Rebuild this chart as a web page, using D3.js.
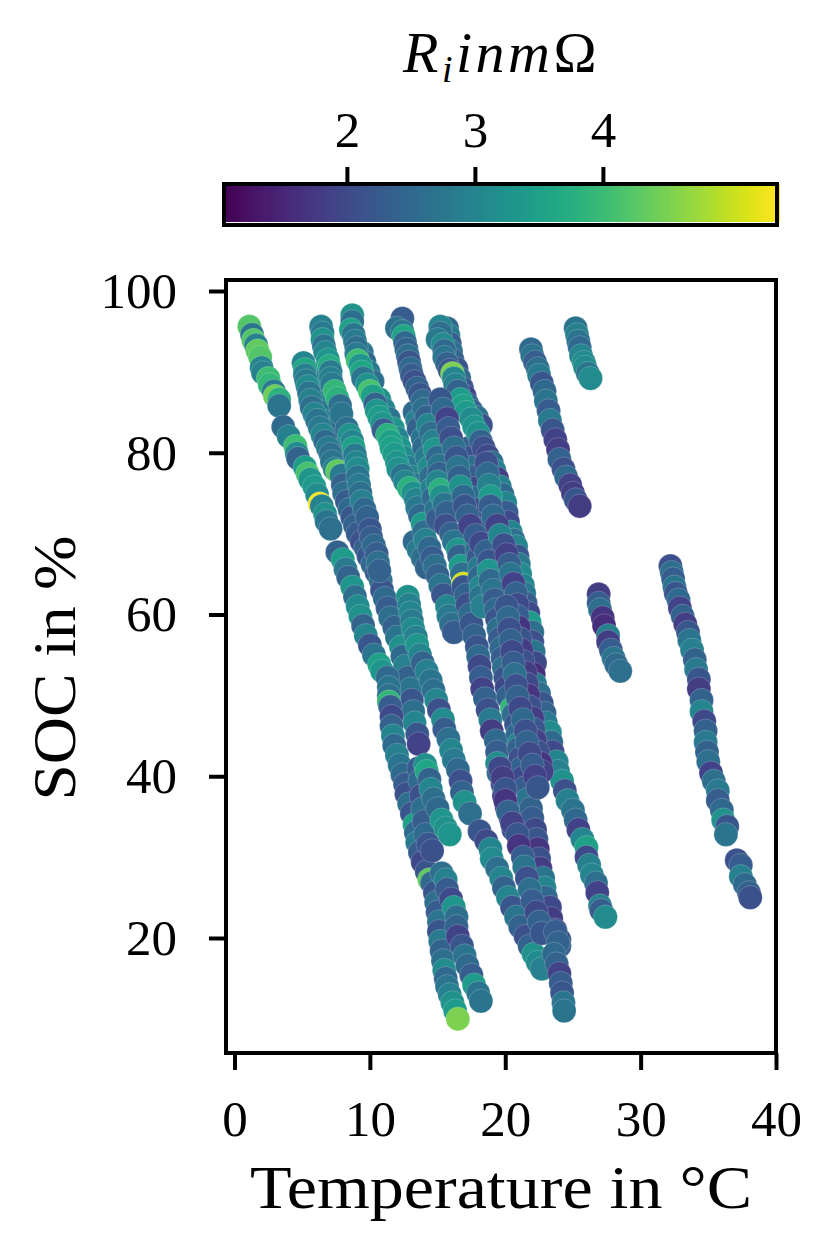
<!doctype html>
<html lang="en">
  <head>
    <meta charset="UTF-8" />
    <title>SOC over temperature</title>
    <style>
      html, body { margin: 0; background: #fff; }
      svg { display: block; }
      text { font-family: "Liberation Serif", serif; fill: #000; }
    </style>
  </head>
  <body>
    <div id="target"></div>
    <script src="https://d3js.org/d3.v7.min.js"></script>
    <script>
      /* global d3 */

      // every point: [temperature in C, SOC in %, Ri in mOhm]
      const stripA = [
        [1.1,95.6,4.2],[1.3,94.6,2.7],[1.4,93.9,4.2],[1.6,93.3,2.9],[1.7,92.6,4.3],[1.9,91.8,4.2],[2.0,90.5,3.0],
        [2.1,89.9,2.9],[2.5,89.2,4.0],[2.6,88.4,3.9],[2.9,87.6,2.8],[3.0,87.0,4.4],[3.3,86.6,3.8],[3.3,85.8,2.7],
        [3.6,83.2,2.5],[4.0,82.0,2.9],[4.5,80.8,4.0],[4.6,79.9,3.1],[4.7,79.3,2.4],[5.2,78.2,3.4],[5.4,77.4,4.1],
        [5.6,76.7,3.3],[5.9,75.8,3.4],[6.1,74.8,3.1],[6.3,73.7,5.3],[6.45,73.4,2.9],[6.7,72.4,3.2],[6.8,71.5,2.7],[7.1,70.6,2.6]
      ];
      const stripB = [
        [5.1,91.1,3.0],[5.2,90.3,3.6],[5.2,89.6,2.9],[5.3,88.9,2.8],[5.4,88.2,3.1],[5.5,87.4,2.7],[5.6,86.5,2.9],
        [5.7,85.6,2.6],[5.9,84.8,3.0],[6.1,84.0,2.7],[6.3,83.1,2.8],[6.5,82.2,3.0],[6.7,81.4,2.5],[6.9,80.6,2.8],
        [7.1,79.8,2.6],[7.2,78.9,2.7],[7.4,78.0,2.9],[7.6,77.7,4.3],[7.9,77.2,2.8],[8.0,76.0,2.4],[8.1,75.0,2.6],
        [8.3,74.0,2.3],[8.5,73.0,2.5],[8.7,72.0,2.2],[8.9,71.0,2.4],[9.1,70.0,2.3],[9.4,69.0,2.1],[9.7,68.2,2.4],
        [9.9,67.2,2.2],[10.2,66.2,2.5],[10.5,65.2,2.3],[10.8,64.2,2.6],[10.9,63.0,2.2],[11.1,62.0,2.5],[11.3,60.8,2.3],
        [11.5,59.6,2.6],[11.8,58.4,2.4],[12.0,57.2,2.7],[12.3,56.0,3.2],[12.4,54.8,2.5],[12.6,53.6,2.9],[12.8,52.2,2.4],
        [13.0,50.8,2.7],[13.1,49.4,2.2],[13.2,48.0,2.6],[13.3,46.6,3.0],[13.5,45.2,2.2],[13.6,44.0,1.9]
      ];
      const stripB2 = [
        [5.5,90.0,2.8],[5.6,88.8,3.0],[5.8,87.6,2.6],[6.0,86.4,2.8],[6.2,85.2,2.7],[6.5,84.0,2.9],[6.8,82.8,2.6],
        [7.1,81.6,2.4],[7.4,80.4,2.7],[7.6,79.2,2.5],[8.2,77.6,2.4],[8.4,76.4,2.2],[8.7,75.0,2.5],[8.9,73.6,2.3],
        [9.2,72.2,2.1],[9.4,70.8,2.3],[9.7,69.6,2.0]
      ];
      const stripC = [
        [6.4,95.6,2.9],[6.5,94.8,2.8],[6.5,94.0,3.2],[6.6,93.2,2.7],[6.7,92.4,3.0],[6.9,91.5,3.3],[7.0,90.7,3.7],
        [7.1,90.0,2.8],[7.1,89.2,2.9],[7.2,88.5,2.8],[7.4,87.6,3.9],[7.6,86.7,3.8],[7.8,85.8,2.6],[7.9,84.8,2.7],
        [8.3,83.0,2.6],[8.5,82.2,3.2],[8.7,81.4,3.0],[8.8,80.6,3.5],[8.9,79.7,2.8],[9.0,78.8,3.0],[9.1,78.0,3.1],
        [9.1,77.0,2.7],[9.2,76.0,2.8],[9.3,75.0,2.6],[9.4,74.0,2.9],[9.6,73.0,2.5],[9.8,72.0,2.4],[10.0,70.5,2.2],
        [10.1,69.5,2.3],[10.3,68.5,2.5],[10.5,67.5,2.3],[10.6,66.4,2.6],[10.7,65.4,2.4]
      ];
      const stripD = [
        [8.7,97.0,3.2],[8.7,96.2,2.6],[8.6,95.2,3.5],[8.8,94.6,2.7],[8.9,93.8,2.8],[9.0,93.0,2.6],[9.0,92.2,2.8],
        [9.1,91.4,4.0],[9.3,90.8,3.3],[9.4,90.0,3.6],[9.5,89.2,2.7],[9.8,88.4,3.2],[10.0,87.6,4.1],[10.2,87.0,3.5],
        [10.4,86.0,2.4],[10.5,85.2,3.3],[10.7,84.4,3.4],[10.9,83.6,3.3],[11.0,82.8,2.3],[11.3,82.2,3.8],[11.5,81.4,3.5],
        [11.6,80.6,3.5],[11.8,79.8,3.4],[12.0,78.8,3.3],[12.1,78.0,3.2],[12.4,77.2,2.7],[12.6,76.4,3.0],[12.9,75.6,3.8],
        [13.2,75.0,3.2],[13.4,74.2,3.0],[13.5,73.2,2.8],[13.7,72.2,2.5],[13.9,71.2,3.4],[14.0,70.2,2.6],[14.1,69.2,2.9],
        [14.4,68.2,2.5],[14.6,67.0,2.3],[14.8,66.0,2.6],[15.0,64.8,2.4],[15.2,63.6,2.7],[15.4,62.4,2.2],[15.7,61.0,3.0],
        [15.8,59.8,2.8],[16.0,58.8,2.6],[16.2,57.8,2.3]
      ];
      const stripD2 = [
        [9.4,92.4,2.7],[9.6,91.2,2.5],[9.9,90.0,2.8],[10.2,88.8,2.6],[10.7,86.6,3.2],[11.0,85.4,3.0],[11.4,84.2,2.7],
        [11.7,83.0,3.3],[12.0,81.8,3.0],[12.2,80.6,3.3],[12.5,79.4,3.1],[12.8,78.2,2.8],[13.1,77.0,3.0],[13.4,76.0,2.7],
        [13.8,74.6,2.9],[14.1,73.4,2.6],[14.4,72.0,2.8],[13.3,69.0,2.5],[13.6,68.0,2.8],[13.9,67.0,2.6],[14.2,65.8,2.4]
      ];
      const stripE = [
        [12.4,96.6,2.3],[12.0,95.4,2.6],[12.4,95.0,2.7],[12.5,94.4,3.6],[12.6,93.6,2.5],[12.7,92.8,2.4],[12.8,92.0,2.6],
        [12.9,91.2,2.2],[13.0,90.4,2.5],[13.1,89.6,2.3],[13.3,88.8,2.1],[13.5,88.0,2.4],[13.7,87.2,2.2],[13.9,86.4,2.5],
        [14.0,85.4,2.6],[14.2,84.4,2.4],[14.3,83.4,3.0],[14.5,82.4,2.6],[14.7,81.4,2.9],[14.8,80.4,3.3],[15.0,79.4,2.5],
        [15.1,78.4,2.7],[15.1,77.4,2.4],[15.0,76.4,3.0],[15.2,75.4,3.8],[15.3,74.6,3.2],[15.5,73.6,2.7],[15.7,72.6,2.4],
        [15.6,71.0,2.1],[16.0,70.0,2.4],[16.2,69.0,2.7],[16.5,68.0,3.3],[16.6,67.2,2.4],[16.7,66.0,3.4],[16.8,65.0,2.6],
        [16.9,63.8,5.1],[16.9,63.4,2.2],[17.1,62.4,2.4],[17.2,61.2,2.1],[17.4,60.0,2.5],[17.5,58.8,2.2],[17.7,57.4,2.4],
        [17.9,56.0,2.2],[18.0,54.8,2.5],[18.1,53.6,2.0],[18.2,52.2,2.3],[18.3,50.8,1.9],[18.5,49.6,2.4],[18.7,48.2,2.1],
        [18.9,47.0,2.8],[19.0,45.6,1.8],[19.3,44.4,2.5],[19.4,43.0,2.3],[19.4,41.6,3.1],[19.5,40.4,2.5],[19.8,39.0,2.1],
        [19.9,37.6,1.8],[20.1,36.2,2.0],[20.4,34.8,1.7],[20.6,33.4,2.1]
      ];
      const stripE2 = [
        [13.3,85.0,2.5],[13.5,84.0,2.9],[13.6,83.0,2.4],[13.9,81.8,2.7],[14.0,80.6,2.5],[14.2,79.4,2.8],[14.4,78.2,3.1],
        [14.5,77.0,2.6],[14.6,75.6,2.9],[14.7,74.4,2.5],[14.9,73.0,2.7],[15.0,71.8,2.3]
      ];
      const stripF = [
        [15.2,95.6,3.0],[15.2,94.8,2.6],[15.0,94.0,2.8],[15.4,93.4,3.1],[15.5,92.6,2.5],[15.5,91.8,2.7],[15.7,91.0,2.4],
        [15.9,90.2,2.2],[16.1,89.8,4.5],[16.2,89.2,3.0],[16.3,88.4,2.9],[16.5,87.6,2.4],[16.7,86.6,3.4],[16.9,85.8,3.5],
        [17.1,85.0,3.4],[17.5,84.2,3.1],[17.7,83.2,3.3],[18.0,82.4,3.2],[18.2,81.4,2.4],[18.4,80.6,2.1],[18.7,79.6,2.0],
        [19.0,78.8,2.6],[19.2,77.8,2.9],[19.4,76.8,1.8],[19.6,75.8,2.9],[19.8,74.8,2.5],[20.0,73.8,3.0],[20.1,72.6,2.3],
        [20.2,71.4,2.0],[20.4,70.2,3.0],[20.6,69.2,2.6],[20.8,68.4,3.0],[20.9,67.2,2.2],[21.0,66.2,2.8],[21.1,65.0,3.1],
        [21.3,63.6,3.0],[21.4,62.6,2.8],[21.5,61.4,2.3],[21.7,60.2,2.0],[21.8,59.0,3.4],[22.0,57.8,2.6],[22.0,56.6,2.1],
        [22.1,55.4,2.7],[22.2,54.0,2.0],[22.1,52.6,1.6],[22.2,51.4,2.8],[22.5,50.2,2.6],[22.7,49.0,2.2],[22.9,47.8,2.4],
        [23.0,46.6,2.8],[23.3,45.4,3.1],[23.4,44.2,2.5],[23.5,43.0,2.0],[23.8,41.8,3.0],[23.9,40.6,2.9],[24.2,39.4,3.2],
        [24.4,38.2,2.1],[24.6,37.0,2.9],[25.0,35.8,2.7],[25.2,34.6,2.5],[25.4,33.4,1.9],[25.7,32.2,3.0],[26.0,31.2,3.5],
        [26.0,30.0,2.0],[26.2,29.0,2.9],[26.4,27.8,3.0],[26.7,26.8,2.6],[26.8,25.6,1.9],[27.0,24.0,2.9],[27.1,23.4,2.3],[27.4,22.6,3.1]
      ];
      const stripF2 = [
        [15.7,95.4,2.5],[15.8,94.5,2.8],[15.9,93.5,2.3],[16.0,92.5,2.6],[16.1,91.5,2.4],[16.4,90.4,2.2],[16.6,89.2,2.5],
        [16.8,88.0,2.2],[17.0,87.0,1.9],[17.2,86.0,2.4],[17.5,85.2,2.3],[17.9,84.4,2.6],[18.2,83.4,2.1]
      ];
      const stripG = [
        [15.2,86.6,2.2],[15.4,85.4,2.5],[15.7,84.2,1.9],[15.8,83.0,2.3],[16.0,81.8,2.1],[16.2,80.6,2.6],[16.4,79.4,2.2],
        [16.5,78.2,2.7],[16.6,77.0,2.4],[16.7,75.8,3.2],[16.9,74.6,2.5],[17.0,73.4,2.2],[17.2,72.2,2.4],[17.4,71.0,1.9],
        [17.8,69.8,2.3],[18.2,68.8,2.0],[18.6,67.8,2.4],[18.8,66.6,2.2],[18.8,65.4,3.3],[18.9,64.2,2.5],[19.1,63.0,2.7],
        [19.2,61.8,2.3],[19.3,60.6,2.5],[19.4,59.4,2.2],[19.5,58.2,2.6],[19.6,57.0,2.3],[19.7,55.8,2.5],[19.8,54.6,2.3],
        [19.9,53.4,2.6],[20.0,52.2,2.2],[20.1,51.0,2.0],[20.2,49.8,2.4],[20.5,48.4,3.9],[20.6,47.6,2.6],[20.8,46.4,2.2],
        [20.9,45.2,2.5],[21.0,44.0,3.0],[21.0,43.4,2.4],[21.1,42.2,2.1],[21.2,41.0,2.4],[21.3,39.8,2.0],[21.5,38.6,2.3],
        [21.7,37.2,2.7],[21.9,36.0,2.4],[22.0,34.8,2.3],[22.2,33.4,2.0],[22.3,32.2,2.2],[22.4,31.0,1.7],[22.5,29.8,2.1],
        [22.6,28.6,1.8],[22.8,27.4,2.7],[22.9,26.2,3.0],[23.0,25.0,2.5],[23.3,23.8,2.0],[23.4,22.4,1.8],[23.7,21.0,2.0],
        [24.0,19.8,2.2],[24.0,19.0,2.3]
      ];
      const stripG2 = [
        [17.3,80.6,2.4],[17.4,79.4,2.1],[17.5,78.2,2.6],[17.6,77.0,2.3],[17.7,75.6,2.0],[17.8,74.4,2.5],[18.0,73.0,2.2],
        [18.1,71.8,1.9],[18.3,70.6,2.4],[17.9,68.0,2.6],[18.0,67.0,2.3],[18.1,65.8,2.8],[18.1,64.6,2.5],[18.2,63.4,3.0],
        [18.2,62.2,2.7],[18.3,61.0,2.9]
      ];
      const stripH = [
        [18.6,78.7,2.1],[18.7,77.4,2.5],[18.8,76.0,2.9],[18.9,74.6,3.4],[18.9,73.4,2.3],[19.1,72.2,2.5],[19.4,71.0,1.9],
        [19.6,69.8,3.0],[19.9,68.6,2.1],[20.1,67.4,1.9],[20.3,66.2,2.3],[20.4,65.0,2.7],[20.6,63.8,1.9],[20.8,62.6,2.4],
        [20.9,61.2,2.0],[20.9,59.8,2.3],[21.0,58.4,1.7],[21.1,57.0,2.2],[21.2,55.6,1.8],[21.3,54.2,2.1],[21.5,52.8,1.8],
        [21.6,51.4,2.0],[21.7,50.0,1.7],[21.8,48.6,2.1],[22.0,47.2,1.8],[22.1,45.8,2.2],[22.2,44.4,1.9],[22.4,43.0,2.1],
        [22.6,41.6,1.7],[22.7,40.6,1.9]
      ];
      const stripH2 = [
        [20.1,61.0,2.2],[20.2,59.6,2.5],[20.3,58.2,2.1],[20.4,56.8,2.4],[20.5,55.4,2.0],[20.6,54.0,2.3],[20.7,52.6,2.6],
        [20.8,51.2,2.1],[20.9,49.8,2.4],[21.1,48.4,2.0],[21.3,47.0,2.5],[21.5,45.6,2.1],[21.6,44.2,2.4],[21.8,42.8,2.0],
        [22.0,41.4,2.3],[22.2,40.0,1.9],[22.4,38.6,2.2]
      ];
      const stripI = [
        [7.6,67.7,2.4],[8.0,66.8,3.4],[8.2,65.6,2.8],[8.4,64.6,2.4],[8.7,63.4,3.3],[8.9,62.2,2.6],[9.1,61.0,3.1],
        [9.3,59.8,3.2],[9.5,58.6,2.4],[9.7,57.4,3.0],[10.0,56.2,2.2],[10.3,55.0,2.7],[10.7,53.8,3.5],[10.9,53.0,3.3],
        [11.3,52.2,2.5],[11.4,51.0,2.7],[11.4,50.0,2.6],[11.4,49.2,3.9],[11.5,48.6,2.3],[11.6,47.4,2.0],[11.6,46.2,2.4],
        [11.7,45.0,3.0],[11.8,43.8,2.5],[12.0,42.6,2.9],[12.2,41.4,2.7],[12.4,40.2,2.5],[12.6,39.0,2.3],[12.7,37.8,2.1],
        [12.9,36.6,2.6],[13.1,35.4,2.2],[13.3,34.0,3.5],[13.4,33.0,2.5],[13.5,31.8,2.8],[13.7,30.6,2.3],[13.9,29.4,2.0],
        [14.2,28.2,2.2],[14.4,27.2,4.3],[14.6,26.8,2.5],[14.8,25.6,2.2],[14.9,24.4,2.6],[15.0,23.2,2.3],[15.1,22.0,2.7],
        [15.1,20.8,2.2],[15.2,19.6,2.8],[15.3,18.4,2.4],[15.4,17.2,2.6],[15.5,16.0,3.1],[15.6,15.0,2.5],[15.7,14.0,2.7],
        [15.9,13.0,2.9],[16.1,12.0,3.2],[16.3,11.0,3.4],[16.5,10.0,4.5]
      ];
      const stripJ = [
        [12.8,62.2,3.2],[12.9,61.2,2.9],[13.0,60.2,3.0],[13.1,59.2,2.8],[13.2,58.2,3.1],[13.4,57.2,2.9],[13.5,56.2,3.3],
        [13.7,55.0,3.0],[13.9,54.0,2.4],[14.2,53.0,2.9],[14.5,51.8,2.7],[14.7,50.6,2.6],[14.9,49.4,3.0],[15.1,48.2,2.1],
        [15.4,47.0,3.1],[15.5,45.8,2.3],[15.8,44.6,2.6],[16.0,43.2,3.0],[16.2,42.0,2.8],[16.5,40.8,2.5],[16.7,39.4,2.1],
        [16.8,38.0,2.4],[17.0,36.8,3.2],[17.4,35.4,2.6],[18.1,33.2,2.2],[18.6,32.0,2.0],[18.9,31.0,3.0],[19.0,29.8,3.1],
        [19.4,28.6,2.6],[19.7,27.4,3.0],[19.9,26.2,2.4],[20.2,25.0,3.0],[20.5,23.8,2.2],[20.8,22.6,2.7],[21.1,21.4,2.4],
        [21.5,20.2,2.1],[21.8,19.0,2.4],[22.1,18.0,3.2],[22.4,17.0,3.1],[22.7,16.2,2.9]
      ];
      const stripK = [
        [13.6,41.0,2.3],[13.7,39.4,2.5],[13.8,37.6,2.1],[13.9,36.0,2.6],[14.0,34.4,2.3],[14.1,32.8,2.5],[14.3,31.6,2.2],[14.6,30.8,2.1],
        [14.1,41.4,3.2],[14.2,40.6,3.6],[14.4,39.6,2.4],[14.5,38.4,3.0],[14.7,37.2,2.6],[15.0,36.0,2.5],[15.3,34.6,3.3],
        [15.6,33.6,3.2],[15.9,32.8,3.3]
      ];
      const stripL = [
        [15.3,28.0,2.6],[15.6,27.2,2.9],[15.7,26.0,2.3],[16.0,24.8,2.0],[16.2,23.8,3.3],[16.4,22.6,2.6],[16.4,21.4,2.4],
        [16.5,20.2,1.9],[16.8,19.0,2.2],[17.0,17.8,2.7],[17.2,16.6,2.5],[17.5,15.4,2.3],[17.7,14.2,3.4],[18.0,13.2,2.7],[18.2,12.2,2.7]
      ];
      const stripM = [
        [19.6,41.0,2.0],[19.8,39.8,1.8],[20.0,38.4,2.2],[20.0,37.0,1.7],[20.2,35.6,2.4],[20.5,34.2,1.9],[20.9,32.8,2.2],
        [21.0,31.4,1.7],[21.3,30.0,2.3],[21.4,28.8,2.7],[21.6,27.4,2.1],[21.8,26.0,2.6],[22.0,24.6,2.3],[22.3,23.2,2.0],
        [22.5,22.0,2.4],[22.7,20.6,2.2]
      ];
      const stripN = [
        [23.7,20.8,2.3],[23.9,19.4,2.4],[23.6,18.0,2.5],[23.8,16.8,2.4],[24.0,15.6,1.9],[24.1,14.4,2.3],[24.2,13.2,2.2],[24.3,12.0,2.7],[24.35,11.0,2.7]
      ];
      const stripO = [
        [21.9,92.8,2.5],[22.0,92.0,2.7],[22.2,91.2,2.3],[22.4,90.4,2.6],[22.5,89.6,2.8],[22.7,88.6,2.2],[22.9,87.6,2.5],
        [23.0,86.4,2.7],[23.2,85.2,2.3],[23.3,84.0,2.8],[23.5,82.8,2.2],[23.7,81.6,1.9],[23.9,80.4,1.8],[24.0,79.2,2.4],
        [24.3,78.0,2.1],[24.5,77.0,2.5],[24.8,76.0,1.9],[25.0,75.0,1.8],[25.2,74.2,2.2],[25.5,73.4,1.8]
      ];
      const stripP = [
        [25.2,95.4,2.7],[25.3,94.6,2.9],[25.4,93.8,2.7],[25.5,93.0,2.5],[25.6,92.0,3.0],[25.8,91.2,3.1],[25.9,90.6,3.1],[26.1,89.8,2.7],[26.3,89.2,3.1]
      ];
      const stripQ = [
        [26.9,62.5,1.8],[26.9,61.4,2.3],[27.0,60.6,2.6],[27.2,59.6,1.7],[27.3,58.6,1.6],[27.6,57.4,2.9],[27.6,56.6,1.8],[27.8,55.6,2.3],[28.0,54.6,2.7],[28.2,53.8,2.5],[28.5,53.0,2.6]
      ];
      const stripR = [
        [32.2,66.0,2.1],[32.3,65.2,2.6],[32.4,64.4,2.3],[32.5,63.4,2.7],[32.6,62.6,2.2],[32.8,61.8,2.5],[32.9,60.8,1.9],
        [33.1,59.8,2.4],[33.3,58.8,1.8],[33.5,57.8,2.2],[33.6,56.8,2.7],[33.8,55.6,2.9],[34.0,54.4,2.4],[34.1,53.2,2.8],
        [34.3,52.0,2.2],[34.3,50.8,1.8],[34.5,49.4,2.4],[34.5,48.0,3.0],[34.7,46.8,2.0],[34.8,45.6,2.4],[34.8,44.2,2.8],
        [34.9,43.0,2.4],[35.0,41.8,2.6],[35.2,40.4,1.9],[35.4,39.4,2.6],[35.7,38.2,2.8],[35.7,37.0,2.3],[36.0,35.8,2.5],
        [36.1,34.6,3.2],[36.4,33.8,2.2],[36.3,32.8,2.7],[37.1,29.6,2.1],[37.4,29.0,2.3],[37.4,27.6,2.9],[37.7,26.6,2.5],[38.0,25.6,2.4],[38.1,25.0,2.1]
      ];
      const strips = [stripA, stripB2, stripB, stripC, stripD2, stripD, stripE2, stripE, stripG2, stripF2, stripF, stripG, stripH, stripH2, stripI, stripJ, stripK, stripL, stripM, stripN, stripO, stripP, stripQ, stripR];

      const xTicks = [0, 10, 20, 30, 40];
      const yTicks = [20, 40, 60, 80, 100];
      const colorTicks = [2, 3, 4];
      const riRange = [1.04, 5.36];

      const width = 835, height = 1248;
      const frame = { left: 226, right: 776, top: 280, bottom: 1053 };
      const bar = { left: 224, right: 777, top: 184, bottom: 225 };
      const strokeW = 4;

      const svg = d3.select("#target").append("svg")
        .attr("width", width).attr("height", height)
        .attr("viewBox", [0, 0, width, height]);

      const xScale = d3.scaleLinear().domain([0, 40]).range([234.5, 776]);
      const yScale = d3.scaleLinear().domain([20, 100]).range([938, 291]);
      const riScale = d3.scaleLinear().domain(riRange).range([bar.left, bar.right]);
      const color = d3.scaleSequential(d3.interpolateViridis).domain(riRange);

      // points, bottom of each strip painted last
      svg.append("g").selectAll("circle")
        .data(strips.flat())
        .join("circle")
        .attr("cx", (d) => xScale(d[0]))
        .attr("cy", (d) => yScale(d[1]))
        .attr("r", 12)
        .attr("fill", (d) => color(d[2]))
        .attr("stroke", "#fff")
        .attr("stroke-width", 0.2);

      svg.append("rect")
        .attr("x", frame.left).attr("y", frame.top)
        .attr("width", frame.right - frame.left).attr("height", frame.bottom - frame.top)
        .attr("fill", "none").attr("stroke", "#000").attr("stroke-width", strokeW);

      const styleAxis = (g) => {
        g.select(".domain").remove();
        g.selectAll(".tick line").attr("stroke", "#000").attr("stroke-width", strokeW);
        g.selectAll(".tick text").style("font-size", "51px");
      };

      svg.append("g")
        .attr("transform", `translate(0, ${frame.bottom})`)
        .call(d3.axisBottom(xScale).tickValues(xTicks).tickFormat(d3.format("d")).tickSize(17).tickPadding(30).tickSizeOuter(0))
        .call(styleAxis);

      svg.append("g")
        .attr("transform", `translate(${frame.left}, 0)`)
        .call(d3.axisLeft(yScale).tickValues(yTicks).tickFormat(d3.format("d")).tickSize(17).tickPadding(32).tickSizeOuter(0))
        .call(styleAxis);

      // colour bar
      const barSteps = d3.range(256).map((i) => riRange[0] + (i / 255) * (riRange[1] - riRange[0]));
      svg.append("g").attr("shape-rendering", "crispEdges").selectAll("rect")
        .data(barSteps)
        .join("rect")
        .attr("x", (d) => riScale(d))
        .attr("y", bar.top)
        .attr("width", (bar.right - bar.left) / 255 + 1)
        .attr("height", bar.bottom - bar.top - 3)
        .attr("fill", (d) => color(d));

      svg.append("rect")
        .attr("x", bar.left).attr("y", bar.top)
        .attr("width", bar.right - bar.left).attr("height", bar.bottom - bar.top)
        .attr("fill", "none").attr("stroke", "#000").attr("stroke-width", strokeW);

      svg.append("g")
        .attr("transform", `translate(0, ${bar.top})`)
        .call(d3.axisTop(riScale).tickValues(colorTicks).tickFormat(d3.format("d")).tickSize(17).tickPadding(20).tickSizeOuter(0))
        .call(styleAxis);

      svg.append("text")
        .attr("x", 501).attr("y", 1208)
        .attr("text-anchor", "middle")
        .attr("textLength", 502).attr("lengthAdjust", "spacingAndGlyphs")
        .style("font-size", "62px")
        .text("Temperature in °C");

      svg.append("text")
        .attr("transform", "translate(75, 668) rotate(-90)")
        .attr("text-anchor", "middle")
        .attr("textLength", 265).attr("lengthAdjust", "spacingAndGlyphs")
        .style("font-size", "62px")
        .text("SOC in %");

      const title = svg.append("text")
        .attr("x", 403).attr("y", 72)
        .style("font-size", "58px")
        .style("letter-spacing", "3.5px")
        .style("font-style", "italic");
      title.append("tspan").text("R");
      title.append("tspan").attr("dy", 10).style("font-size", "38px").text("i");
      title.append("tspan").attr("dy", -10).text("inm");
      title.append("tspan").style("font-style", "normal").text("Ω");
    </script>
  </body>
</html>
